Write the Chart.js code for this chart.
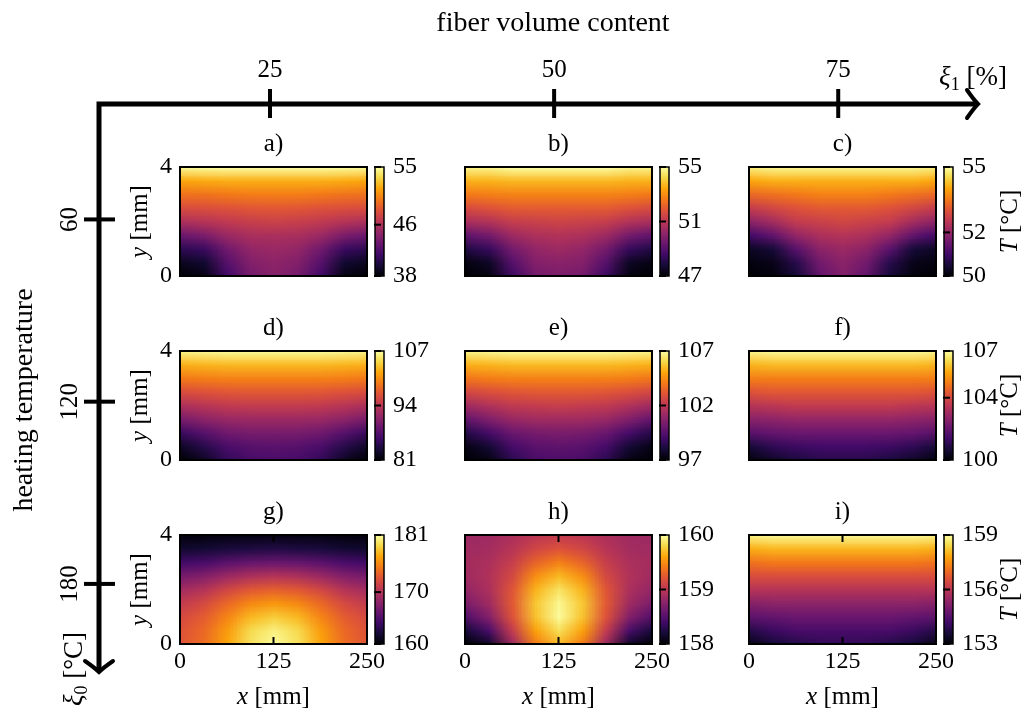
<!DOCTYPE html>
<html>
<head>
<meta charset="utf-8">
<script src="https://cdn.jsdelivr.net/npm/chart.js@4.4.6/dist/chart.umd.min.js"></script>
<style>
  body { margin: 0; background: #fff; }
  #figura { position: relative; width: 1031px; height: 708px; overflow: hidden; }
  #figura canvas { position: absolute; }
</style>
</head>
<body>
<div id="figura">
  <canvas id="marco" width="1031" height="708" style="left:0;top:0"></canvas>
</div>
<script>
// malla de lectura: x en mm (columnas), y en mm (filas, de arriba a abajo)
const xMalla = [0, 31.25, 62.5, 93.75, 125, 156.25, 187.5, 218.75, 250];
const yMalla = [4, 3.5, 3, 2.5, 2, 1.5, 1, 0.5, 0];
const xTicks = [0, 125, 250];
const yTicks = [0, 4];

// ejes exteriores
const contenidoFibra = [25, 50, 75];        // xi_1 [%]
const tempCalentamiento = [60, 120, 180];   // xi_0 [°C]
const etiquetas = ['a)', 'b)', 'c)', 'd)', 'e)', 'f)', 'g)', 'h)', 'i)'];

// ticks de las barras de color (min, medio, max)
const barraA = [38, 46, 55];
const barraB = [47, 51, 55];
const barraC = [50, 52, 55];
const barraD = [81, 94, 107];
const barraE = [97, 102, 107];
const barraF = [100, 104, 107];
const barraG = [160, 170, 181];
const barraH = [158, 159, 160];
const barraI = [153, 156, 159];

const tempA = [
  [54.8, 54.9, 55.0, 55.0, 55.0, 55.0, 55.0, 54.9, 54.8],
  [51.6, 51.8, 51.9, 51.9, 51.9, 51.9, 51.9, 51.8, 51.6],
  [49.6, 49.7, 49.9, 50.1, 50.1, 50.1, 49.9, 49.7, 49.6],
  [47.9, 48.0, 48.2, 48.4, 48.5, 48.4, 48.2, 48.0, 47.9],
  [45.8, 46.2, 46.7, 47.0, 47.2, 47.0, 46.7, 46.2, 45.8],
  [43.1, 43.8, 45.1, 45.7, 45.8, 45.7, 45.1, 43.8, 43.1],
  [40.6, 41.1, 43.4, 44.8, 45.1, 44.8, 43.4, 41.1, 40.6],
  [38.9, 39.4, 42.3, 44.1, 44.6, 44.1, 42.3, 39.4, 38.9],
  [38.0, 38.5, 41.4, 43.6, 44.3, 43.6, 41.4, 38.5, 38.0]
];
const tempB = [
  [54.8, 54.8, 55.0, 55.0, 55.0, 55.0, 55.0, 54.8, 54.8],
  [53.6, 53.6, 53.7, 53.7, 53.7, 53.7, 53.7, 53.6, 53.6],
  [52.6, 52.7, 52.8, 52.8, 52.8, 52.8, 52.8, 52.7, 52.6],
  [51.6, 51.8, 52.0, 52.0, 52.0, 52.0, 52.0, 51.8, 51.6],
  [50.6, 50.8, 51.2, 51.3, 51.4, 51.3, 51.2, 50.8, 50.6],
  [49.2, 49.6, 50.4, 50.7, 50.8, 50.7, 50.4, 49.6, 49.2],
  [48.0, 48.4, 49.6, 50.2, 50.4, 50.2, 49.6, 48.4, 48.0],
  [47.2, 47.5, 49.0, 49.9, 50.0, 49.9, 49.0, 47.5, 47.2],
  [47.0, 47.2, 48.5, 49.6, 49.8, 49.6, 48.5, 47.2, 47.0]
];
const tempC = [
  [54.8, 54.9, 54.9, 54.9, 54.9, 54.9, 54.9, 54.9, 54.8],
  [54.0, 54.1, 54.1, 54.1, 54.1, 54.1, 54.1, 54.1, 54.0],
  [53.3, 53.4, 53.5, 53.6, 53.6, 53.6, 53.5, 53.4, 53.3],
  [52.6, 52.8, 53.0, 53.1, 53.1, 53.1, 53.0, 52.8, 52.6],
  [51.9, 52.2, 52.6, 52.7, 52.8, 52.7, 52.6, 52.2, 51.9],
  [51.0, 51.4, 52.0, 52.3, 52.4, 52.3, 52.0, 51.4, 51.0],
  [50.3, 50.5, 51.3, 51.9, 52.1, 51.9, 51.3, 50.5, 50.3],
  [50.1, 50.2, 50.7, 51.6, 51.9, 51.6, 50.7, 50.2, 50.1],
  [50.0, 50.1, 50.5, 51.4, 51.8, 51.4, 50.5, 50.1, 50.0]
];
const tempD = [
  [106.2, 106.5, 106.7, 106.7, 106.7, 106.7, 106.7, 106.5, 106.2],
  [102.3, 102.6, 102.8, 102.8, 102.8, 102.8, 102.8, 102.6, 102.3],
  [99.2, 99.5, 99.7, 99.7, 99.7, 99.7, 99.7, 99.5, 99.2],
  [96.1, 96.6, 96.9, 97.1, 97.1, 97.1, 96.9, 96.6, 96.1],
  [93.0, 93.7, 94.3, 94.5, 94.5, 94.5, 94.3, 93.7, 93.0],
  [89.6, 90.9, 91.7, 91.9, 91.9, 91.9, 91.7, 90.9, 89.6],
  [85.7, 87.5, 89.1, 89.6, 89.6, 89.6, 89.1, 87.5, 85.7],
  [82.6, 84.6, 86.7, 87.5, 87.8, 87.5, 86.7, 84.6, 82.6],
  [81.0, 82.6, 85.4, 86.5, 86.7, 86.5, 85.4, 82.6, 81.0]
];
const tempE = [
  [106.7, 106.8, 106.9, 106.9, 106.9, 106.9, 106.9, 106.8, 106.7],
  [105.2, 105.3, 105.4, 105.4, 105.4, 105.4, 105.4, 105.3, 105.2],
  [103.9, 104.1, 104.2, 104.2, 104.2, 104.2, 104.2, 104.1, 103.9],
  [102.6, 102.9, 103.1, 103.2, 103.2, 103.2, 103.1, 102.9, 102.6],
  [101.3, 101.7, 102.1, 102.2, 102.3, 102.2, 102.1, 101.7, 101.3],
  [99.8, 100.5, 101.1, 101.3, 101.3, 101.3, 101.1, 100.5, 99.8],
  [98.3, 99.1, 100.0, 100.3, 100.4, 100.3, 100.0, 99.1, 98.3],
  [97.3, 97.9, 99.1, 99.6, 99.7, 99.6, 99.1, 97.9, 97.3],
  [97.0, 97.3, 98.5, 99.2, 99.3, 99.2, 98.5, 97.3, 97.0]
];
const tempF = [
  [106.8, 106.9, 106.9, 106.9, 106.9, 106.9, 106.9, 106.9, 106.8],
  [105.8, 105.9, 105.9, 105.9, 105.9, 105.9, 105.9, 105.9, 105.8],
  [105.0, 105.0, 105.0, 105.0, 105.0, 105.0, 105.0, 105.0, 105.0],
  [104.2, 104.3, 104.3, 104.3, 104.3, 104.3, 104.3, 104.3, 104.2],
  [103.4, 103.5, 103.6, 103.6, 103.6, 103.6, 103.6, 103.5, 103.4],
  [102.6, 102.7, 102.8, 102.8, 102.8, 102.8, 102.8, 102.7, 102.6],
  [101.8, 102.0, 102.1, 102.1, 102.1, 102.1, 102.1, 102.0, 101.8],
  [100.7, 101.1, 101.3, 101.4, 101.4, 101.4, 101.3, 101.1, 100.7],
  [100.1, 100.5, 100.8, 101.0, 101.0, 101.0, 100.8, 100.5, 100.1]
];
const tempG = [
  [160.4, 160.4, 160.6, 160.6, 160.6, 160.6, 160.6, 160.4, 160.4],
  [161.7, 161.9, 162.3, 162.5, 162.7, 162.5, 162.3, 161.9, 161.7],
  [164.2, 164.6, 165.5, 166.1, 166.3, 166.1, 165.5, 164.6, 164.2],
  [166.9, 167.6, 168.8, 169.7, 170.1, 169.7, 168.8, 167.6, 166.9],
  [169.2, 170.1, 171.8, 173.0, 173.4, 173.0, 171.8, 170.1, 169.2],
  [170.9, 172.0, 173.9, 175.5, 176.2, 175.5, 173.9, 172.0, 170.9],
  [172.0, 173.2, 175.3, 177.6, 178.5, 177.6, 175.3, 173.2, 172.0],
  [172.6, 173.9, 176.4, 179.1, 180.2, 179.1, 176.4, 173.9, 172.6],
  [172.8, 174.1, 176.8, 179.5, 180.8, 179.5, 176.8, 174.1, 172.8]
];
const tempH = [
  [158.84, 158.86, 158.92, 159.00, 159.04, 159.00, 158.92, 158.86, 158.84],
  [158.86, 158.88, 158.98, 159.12, 159.20, 159.12, 158.98, 158.88, 158.86],
  [158.88, 158.92, 159.06, 159.30, 159.44, 159.30, 159.06, 158.92, 158.88],
  [158.86, 158.94, 159.14, 159.50, 159.68, 159.50, 159.14, 158.94, 158.86],
  [158.80, 158.92, 159.22, 159.66, 159.86, 159.66, 159.22, 158.92, 158.80],
  [158.68, 158.86, 159.24, 159.74, 159.96, 159.74, 159.24, 158.86, 158.68],
  [158.48, 158.72, 159.20, 159.72, 159.98, 159.72, 159.20, 158.72, 158.48],
  [158.20, 158.44, 159.04, 159.58, 159.84, 159.58, 159.04, 158.44, 158.20],
  [158.00, 158.14, 158.84, 159.42, 159.68, 159.42, 158.84, 158.14, 158.00]
];
const tempI = [
  [158.8, 158.9, 158.9, 158.9, 158.9, 158.9, 158.9, 158.9, 158.8],
  [157.9, 158.0, 158.0, 158.0, 158.0, 158.0, 158.0, 158.0, 157.9],
  [157.1, 157.2, 157.2, 157.2, 157.2, 157.2, 157.2, 157.2, 157.1],
  [156.5, 156.5, 156.5, 156.5, 156.5, 156.5, 156.5, 156.5, 156.5],
  [155.9, 155.9, 155.9, 155.9, 155.9, 155.9, 155.9, 155.9, 155.9],
  [155.2, 155.3, 155.3, 155.3, 155.3, 155.3, 155.3, 155.3, 155.2],
  [154.6, 154.7, 154.8, 154.8, 154.8, 154.8, 154.8, 154.7, 154.6],
  [153.8, 154.1, 154.3, 154.3, 154.3, 154.3, 154.3, 154.1, 153.8],
  [153.2, 153.6, 153.8, 154.0, 154.0, 154.0, 153.8, 153.6, 153.2]
];

const temperaturas = [tempA, tempB, tempC, tempD, tempE, tempF, tempG, tempH, tempI];
const barras = [barraA, barraB, barraC, barraD, barraE, barraF, barraG, barraH, barraI];

// mapa de colores inferno
const inferno = [
  [0, 0, 4], [22, 11, 57], [66, 10, 104], [106, 23, 110], [147, 38, 103],
  [188, 55, 84], [221, 81, 58], [243, 120, 25], [252, 165, 10], [246, 215, 70], [252, 255, 164]
];
function colorInferno(t) {
  t = Math.max(0, Math.min(1, t)) * (inferno.length - 1);
  const i = Math.min(Math.floor(t), inferno.length - 2);
  const f = t - i;
  return inferno[i].map((c, k) => Math.round(c + (inferno[i + 1][k] - c) * f));
}

const SERIF = '"Liberation Serif", "DejaVu Serif", serif';
Chart.defaults.font.family = SERIF;
Chart.defaults.color = '#000';

// texto con partes en cursiva y subindices
function textoMixto(ctx, partes, x, y, girar) {
  ctx.save();
  ctx.translate(x, y);
  if (girar) ctx.rotate(-Math.PI / 2);
  ctx.textAlign = 'left';
  ctx.textBaseline = 'alphabetic';
  ctx.fillStyle = '#000';
  let total = 0;
  partes.forEach(p => {
    ctx.font = (p.it ? 'italic ' : '') + p.size + 'px ' + SERIF;
    p.w = ctx.measureText(p.t).width;
    total += p.w;
  });
  let cx = -total / 2;
  partes.forEach(p => {
    ctx.font = (p.it ? 'italic ' : '') + p.size + 'px ' + SERIF;
    ctx.fillText(p.t, cx, p.dy || 0);
    cx += p.w;
  });
  ctx.restore();
}

const IZQ = 80, ARR = 45, DER = 120, ABA = 70;
const ANCHO = 187, ALTO = 109;
const columnasX = [180, 465, 749];
const filasY = [167, 351, 535];

const pluginMapa = {
  id: 'mapa',
  beforeDatasetsDraw(chart, args, o) {
    const { ctx, scales } = chart;
    const puntos = chart.data.datasets[0].data;
    const off = document.createElement('canvas');
    off.width = xMalla.length;
    off.height = yMalla.length;
    const octx = off.getContext('2d');
    const img = octx.createImageData(off.width, off.height);
    puntos.forEach(p => {
      const i = xMalla.indexOf(p.x), j = yMalla.indexOf(p.y);
      const c = colorInferno((p.v - o.min) / (o.max - o.min));
      const k = (j * off.width + i) * 4;
      img.data[k] = c[0]; img.data[k + 1] = c[1]; img.data[k + 2] = c[2]; img.data[k + 3] = 255;
    });
    octx.putImageData(img, 0, 0);
    const x0 = scales.x.getPixelForValue(xMalla[0]);
    const x1 = scales.x.getPixelForValue(xMalla[xMalla.length - 1]);
    const y0 = scales.y.getPixelForValue(yMalla[0]);
    const y1 = scales.y.getPixelForValue(yMalla[yMalla.length - 1]);
    ctx.save();
    ctx.imageSmoothingEnabled = true;
    ctx.drawImage(off, 0.5, 0.5, off.width - 1, off.height - 1, x0, y0, x1 - x0, y1 - y0);
    ctx.restore();
  },
  afterDraw(chart, args, o) {
    const { ctx, chartArea: a, scales } = chart;
    ctx.save();
    ctx.strokeStyle = '#000';
    // marco
    ctx.lineWidth = 2;
    ctx.strokeRect(a.left, a.top, a.right - a.left, a.bottom - a.top);
    // ticks interiores (fila inferior)
    if (o.fila === 2) {
      ctx.lineWidth = 2;
      xTicks.forEach(v => {
        const px = scales.x.getPixelForValue(v);
        ctx.beginPath();
        ctx.moveTo(px, a.bottom); ctx.lineTo(px, a.bottom - 7);
        ctx.moveTo(px, a.top); ctx.lineTo(px, a.top + 7);
        ctx.stroke();
      });
    }
    // barra de color
    const bx = a.right + 8, bw = 9;
    const cb = scales.cb;
    const yTop = cb.getPixelForValue(o.max), yBot = cb.getPixelForValue(o.min);
    const grad = ctx.createLinearGradient(0, yBot, 0, yTop);
    inferno.forEach((c, i) => grad.addColorStop(i / (inferno.length - 1), `rgb(${c[0]},${c[1]},${c[2]})`));
    ctx.fillStyle = grad;
    ctx.fillRect(bx, yTop, bw, yBot - yTop);
    ctx.lineWidth = 1.5;
    ctx.strokeRect(bx, yTop, bw, yBot - yTop);
    ctx.lineWidth = 2;
    o.ticks.forEach(v => {
      const py = cb.getPixelForValue(v);
      ctx.beginPath();
      ctx.moveTo(bx - 1, py); ctx.lineTo(bx + 6, py);
      ctx.stroke();
    });
    ctx.restore();
    // titulos de ejes
    if (o.col === 0) {
      textoMixto(ctx, [{ t: 'y', it: true, size: 25 }, { t: ' [mm]', size: 25 }],
        a.left - 33, (a.top + a.bottom) / 2, true);
    }
    if (o.col === 2) {
      textoMixto(ctx, [{ t: 'T', it: true, size: 25 }, { t: ' [°C]', size: 25 }],
        a.right + 81, (a.top + a.bottom) / 2, true);
    }
    if (o.fila === 2) {
      textoMixto(ctx, [{ t: 'x', it: true, size: 25 }, { t: ' [mm]', size: 25 }],
        (a.left + a.right) / 2, a.bottom + 60, false);
    }
  }
};

const fuenteTick = { family: SERIF, size: 24 };

temperaturas.forEach((grid, n) => {
  const fila = Math.floor(n / 3), col = n % 3;
  const barra = barras[n];
  const lienzo = document.createElement('canvas');
  lienzo.width = IZQ + ANCHO + DER;
  lienzo.height = ARR + ALTO + ABA;
  lienzo.style.left = (columnasX[col] - IZQ) + 'px';
  lienzo.style.top = (filasY[fila] - ARR) + 'px';
  document.getElementById('figura').appendChild(lienzo);

  const puntos = [];
  yMalla.forEach((yv, j) => xMalla.forEach((xv, i) => puntos.push({ x: xv, y: yv, v: grid[j][i] })));

  new Chart(lienzo.getContext('2d'), {
    type: 'scatter',
    data: { datasets: [{ data: puntos, pointRadius: 0, pointHoverRadius: 0 }] },
    options: {
      responsive: false,
      animation: false,
      events: [],
      layout: { padding: 0 },
      plugins: {
        legend: { display: false },
        tooltip: { enabled: false },
        title: {
          display: true, text: etiquetas[n], fullSize: false, color: '#000',
          font: { family: SERIF, size: 25, weight: 'normal', lineHeight: 1 },
          padding: { top: 10, bottom: 10 }
        },
        mapa: { min: barra[0], max: barra[barra.length - 1], ticks: barra, fila: fila, col: col }
      },
      scales: {
        x: {
          type: 'linear', position: 'bottom', min: 0, max: 250,
          grid: { display: false, drawTicks: false }, border: { display: false },
          ticks: { display: fila === 2, padding: 3, font: fuenteTick, color: '#000' },
          afterBuildTicks: s => { s.ticks = xTicks.map(v => ({ value: v })); },
          afterFit: s => { s.height = ABA; }
        },
        y: {
          type: 'linear', position: 'left', min: 0, max: 4,
          grid: { display: false, drawTicks: false }, border: { display: false },
          ticks: { display: col === 0, padding: 8, font: fuenteTick, color: '#000' },
          afterBuildTicks: s => { s.ticks = yTicks.map(v => ({ value: v })); },
          afterFit: s => { s.width = IZQ; }
        },
        cb: {
          type: 'linear', position: 'right', min: barra[0], max: barra[barra.length - 1],
          grid: { display: false, drawTicks: false }, border: { display: false },
          ticks: { padding: 26, font: fuenteTick, color: '#000' },
          afterBuildTicks: s => { s.ticks = barra.map(v => ({ value: v })); },
          afterFit: s => { s.width = DER; }
        }
      }
    },
    plugins: [pluginMapa]
  });
});

// ejes exteriores con flechas
const pluginMarco = {
  id: 'marco',
  afterDraw(chart) {
    const { ctx, chartArea: a, scales: { x, y } } = chart;
    ctx.save();
    ctx.strokeStyle = '#000';
    ctx.fillStyle = '#000';
    ctx.lineWidth = 5;
    ctx.lineJoin = 'miter';
    ctx.beginPath();
    ctx.moveTo(a.right - 3, a.top);
    ctx.lineTo(a.left, a.top);
    ctx.lineTo(a.left, a.bottom - 3);
    ctx.stroke();
    // puntas
    ctx.lineWidth = 4;
    ctx.lineCap = 'round';
    ctx.beginPath();
    ctx.moveTo(a.right - 11, a.top - 14);
    ctx.quadraticCurveTo(a.right - 4, a.top - 4, a.right, a.top);
    ctx.quadraticCurveTo(a.right - 4, a.top + 4, a.right - 11, a.top + 14);
    ctx.stroke();
    ctx.beginPath();
    ctx.moveTo(a.left - 14, a.bottom - 11);
    ctx.quadraticCurveTo(a.left - 4, a.bottom - 4, a.left, a.bottom);
    ctx.quadraticCurveTo(a.left + 4, a.bottom - 4, a.left + 14, a.bottom - 11);
    ctx.stroke();
    // ticks
    ctx.lineCap = 'butt';
    ctx.lineWidth = 4;
    ctx.font = '25px ' + SERIF;
    ctx.textAlign = 'center';
    ctx.textBaseline = 'alphabetic';
    contenidoFibra.forEach(v => {
      const px = x.getPixelForValue(v);
      ctx.beginPath();
      ctx.moveTo(px, a.top - 15); ctx.lineTo(px, a.top + 14);
      ctx.stroke();
      ctx.fillText(String(v), px, 77);
    });
    tempCalentamiento.forEach(v => {
      const py = y.getPixelForValue(v);
      ctx.beginPath();
      ctx.moveTo(a.left - 15, py); ctx.lineTo(a.left + 16, py);
      ctx.stroke();
      ctx.save();
      ctx.translate(77, py);
      ctx.rotate(-Math.PI / 2);
      ctx.fillText(String(v), 0, 0);
      ctx.restore();
    });
    ctx.restore();
    textoMixto(ctx, [{ t: 'fiber volume content', size: 28 }], 553, 31, false);
    textoMixto(ctx, [{ t: 'heating temperature', size: 28 }], 32, 400, true);
    textoMixto(ctx, [{ t: 'ξ', it: true, size: 27 }, { t: '1', size: 18, dy: 5 }, { t: ' [%]', size: 27 }], 973, 85, false);
    textoMixto(ctx, [{ t: 'ξ', it: true, size: 27 }, { t: '0', size: 18, dy: 5 }, { t: ' [°C]', size: 27 }], 82, 669, true);
  }
};

new Chart(document.getElementById('marco').getContext('2d'), {
  type: 'scatter',
  data: { datasets: [] },
  options: {
    responsive: false,
    animation: false,
    events: [],
    layout: { padding: { left: 99, top: 104, right: 53, bottom: 36 } },
    plugins: { legend: { display: false }, tooltip: { enabled: false }, marco: {} },
    scales: {
      x: { type: 'linear', min: 9.95, max: 87.3, display: false },
      y: { type: 'linear', min: 22, max: 209, reverse: true, display: false }
    }
  },
  plugins: [pluginMarco]
});
</script>
</body>
</html>
